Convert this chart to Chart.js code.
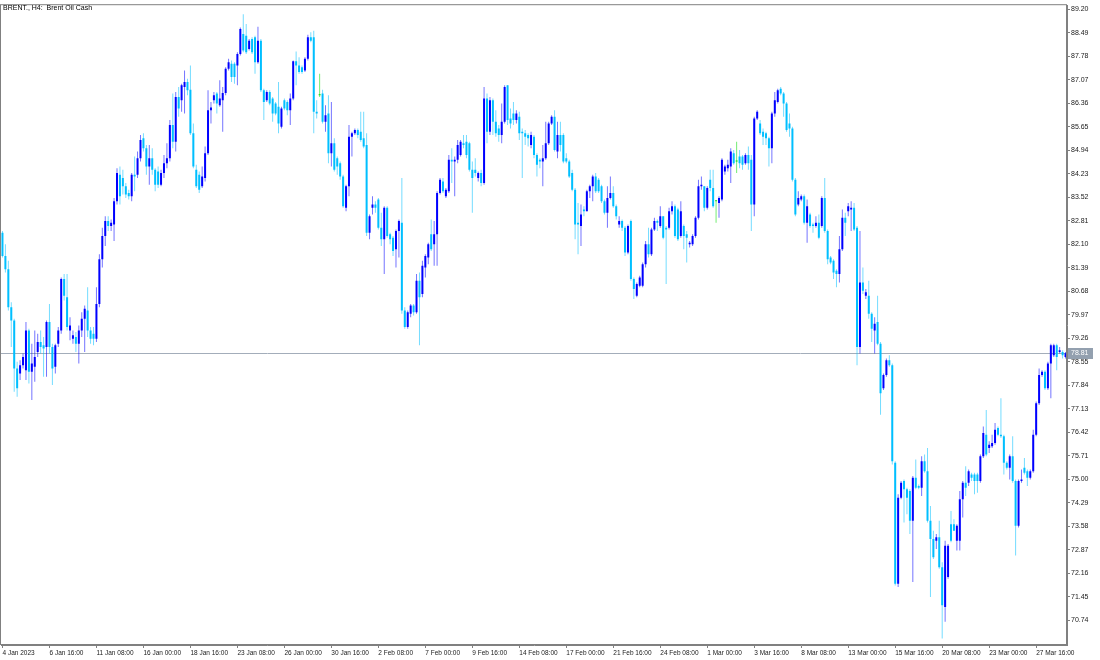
<!DOCTYPE html>
<html>
<head>
<meta charset="utf-8">
<title>BRENT., H4</title>
<script src="https://cdn.jsdelivr.net/npm/chart.js@4.4.1/dist/chart.umd.min.js"></script>
<style>
  html, body { margin:0; padding:0; background:#fff; }
  #wrap { width:1100px; height:660px; }
</style>
</head>
<body>
<div id="wrap"><canvas id="chart" width="1100" height="660"></canvas></div>
<script>
// ===== Data =====
const symbolTitle = "BRENT., H4:  Brent Oil Cash";
const lastPrice = 78.81;

// one label every 16 H4 bars
const dateTicks = ["4 Jan 2023","6 Jan 16:00","11 Jan 08:00","16 Jan 00:00","18 Jan 16:00","23 Jan 08:00",
  "26 Jan 00:00","30 Jan 16:00","2 Feb 08:00","7 Feb 00:00","9 Feb 16:00","14 Feb 08:00","17 Feb 00:00",
  "21 Feb 16:00","24 Feb 08:00","1 Mar 00:00","3 Mar 16:00","8 Mar 08:00","13 Mar 00:00","15 Mar 16:00",
  "20 Mar 08:00","23 Mar 00:00","27 Mar 16:00"];
const ticksEvery = 16;

const priceTicks = [89.20,88.49,87.78,87.07,86.36,85.65,84.94,84.23,83.52,82.81,82.10,81.39,80.68,79.97,
  79.26,78.55,77.84,77.13,76.42,75.71,75.00,74.29,73.58,72.87,72.16,71.45,70.74];

const opens = [
  82.45,81.75,81.35,80.20,79.80,78.35,78.20,78.45,78.30,79.50,
  78.25,78.40,78.85,79.15,79.05,79.00,79.75,79.00,78.40,79.10,
  79.50,81.05,80.50,79.50,79.25,79.30,79.10,79.50,79.85,80.10,
  79.50,79.40,79.25,80.30,81.65,82.35,82.80,82.65,82.70,83.40,
  84.20,84.10,83.85,83.65,83.55,84.20,84.20,84.70,85.30,85.00,
  84.45,84.70,84.35,84.30,83.90,84.25,84.55,84.70,85.70,85.20,
  86.55,86.45,86.85,87.00,86.77,85.45,84.35,84.20,83.85,84.10,
  84.85,86.15,86.45,86.65,86.30,86.45,86.67,87.40,87.55,87.55,
  87.50,87.85,88.45,88.40,88.00,88.30,88.35,87.60,88.25,86.75,
  86.45,86.70,86.50,86.35,86.25,85.65,86.45,86.40,86.15,86.50,
  87.63,87.50,87.45,87.35,87.70,88.35,88.35,86.10,86.60,86.65,
  85.80,86.05,84.85,85.15,84.70,84.55,84.15,83.20,83.85,85.35,
  85.45,85.55,85.50,85.30,85.10,82.45,83.20,83.30,83.45,82.60,
  82.25,83.20,82.40,82.30,81.95,82.50,82.75,80.10,79.60,80.00,
  80.25,80.05,81.00,80.60,81.40,81.70,82.40,82.10,82.40,83.65,
  84.00,83.55,83.70,84.65,84.60,84.65,84.80,85.15,85.20,85.15,
  84.35,84.35,84.10,84.25,83.95,86.50,85.50,86.45,85.80,85.60,
  85.40,85.80,86.90,85.90,86.05,85.85,85.95,85.50,85.45,85.40,
  85.10,85.35,84.80,84.65,84.60,84.70,85.15,85.75,85.95,84.90,
  85.40,85.40,84.70,84.60,84.25,83.75,82.75,82.65,83.15,83.10,
  83.70,83.85,84.15,84.05,83.85,83.40,83.05,83.50,83.65,83.25,
  82.70,82.80,82.60,81.85,82.80,81.05,80.55,80.85,80.85,81.50,
  82.10,81.80,82.55,82.80,82.65,82.95,82.60,82.60,83.10,83.25,
  83.15,82.35,82.65,82.40,82.10,82.10,82.35,82.90,83.85,83.85,
  83.20,84.05,83.80,83.40,83.35,83.45,84.30,84.40,84.45,84.85,
  84.60,84.75,84.75,84.55,84.80,84.65,83.30,85.90,85.75,85.50,
  85.45,85.30,85.00,86.05,86.40,86.80,86.65,86.35,85.75,85.60,
  84.05,83.30,83.45,83.55,82.75,83.00,82.70,82.65,82.75,82.65,
  83.50,82.50,81.70,81.60,81.30,81.20,81.95,82.90,83.10,83.15,
  83.20,82.60,79.00,80.95,80.55,80.55,80.00,79.50,79.75,79.10,
  77.75,78.15,78.60,78.45,75.50,71.85,74.45,74.95,74.70,74.65,
  73.75,75.05,74.80,74.75,75.55,75.25,73.75,73.20,73.15,73.25,
  72.35,71.15,72.05,73.65,73.65,73.15,73.15,74.40,74.90,74.90,
  75.15,75.15,75.15,74.95,75.70,76.35,75.95,76.00,76.10,76.55,
  76.35,76.30,75.50,75.35,75.70,74.95,73.60,74.95,75.35,75.25,
  75.05,75.25,76.35,77.30,78.15,78.25,77.75,78.50,78.75,79.05,
  78.85,78.85,78.70
];

const highs = [
  82.50,82.10,81.60,80.35,79.85,78.55,78.60,78.80,79.75,79.55,
  79.10,79.50,79.40,79.50,79.30,79.80,80.30,79.10,79.10,79.60,
  81.10,81.20,81.20,79.90,79.50,79.45,79.65,80.05,80.25,80.80,
  79.60,79.60,80.80,81.80,82.60,82.95,82.95,82.85,83.50,84.40,
  84.45,84.35,83.95,83.75,84.25,84.75,84.90,85.40,85.45,85.10,
  85.10,85.00,84.40,84.45,84.35,84.80,85.15,85.85,86.65,86.70,
  86.85,86.95,87.35,87.10,87.50,85.75,84.50,84.30,84.45,85.05,
  86.75,86.40,86.70,86.70,87.05,86.85,87.45,87.70,87.65,87.60,
  87.90,88.65,89.05,88.75,88.30,88.35,88.40,88.67,88.30,86.80,
  86.75,86.75,86.55,86.40,87.00,86.25,86.50,86.45,86.65,87.65,
  87.92,87.75,87.50,87.75,88.43,88.50,88.55,86.45,87.25,86.77,
  86.30,86.60,86.40,85.30,84.75,84.60,84.20,83.90,85.70,85.50,
  85.60,85.60,86.10,86.10,85.45,83.00,83.55,83.40,83.50,83.05,
  83.25,83.25,82.45,82.35,82.55,82.85,84.10,80.20,80.10,80.30,
  80.30,81.20,81.25,81.60,81.80,82.15,82.85,82.80,83.70,84.10,
  84.10,83.80,84.80,85.00,84.75,85.25,85.25,85.40,85.40,85.20,
  84.60,84.70,84.30,84.35,86.85,86.65,86.55,86.50,86.15,85.70,
  86.35,86.90,86.90,86.20,86.40,86.15,86.10,85.60,85.55,85.45,
  85.50,85.40,84.85,84.70,85.10,85.80,85.80,86.00,86.15,85.80,
  85.80,85.45,84.85,84.65,84.35,83.80,83.35,83.30,83.25,83.75,
  83.90,84.20,84.25,84.10,83.90,83.45,83.85,84.15,83.85,83.30,
  82.95,82.85,82.65,82.70,82.85,81.10,80.95,81.15,81.55,82.20,
  82.60,82.60,82.90,82.85,83.25,82.95,82.65,83.20,83.40,83.30,
  83.20,83.40,82.70,82.50,82.20,82.40,82.95,84.05,84.15,83.85,
  83.85,84.35,84.35,83.40,83.55,84.70,84.50,84.65,85.00,84.95,
  85.20,84.95,84.80,84.85,85.05,84.80,85.95,86.15,85.85,85.60,
  85.50,85.35,86.10,86.70,86.80,86.85,86.70,86.40,86.05,85.65,
  84.10,83.70,83.60,83.60,83.45,83.05,82.75,82.95,83.00,83.55,
  84.10,82.55,81.75,81.65,81.35,82.35,83.15,83.05,83.35,83.40,
  83.35,82.65,82.50,81.40,80.75,81.00,80.05,79.90,80.55,79.15,
  78.20,78.65,78.75,78.50,75.55,74.55,74.95,75.00,74.75,74.70,
  75.10,75.60,74.85,75.70,75.75,75.95,74.20,73.45,73.35,73.75,
  72.50,73.15,73.05,74.05,73.80,73.65,74.65,74.95,75.40,75.30,
  75.20,75.20,75.20,75.75,76.60,77.10,76.15,76.35,76.70,76.60,
  77.45,76.35,75.55,75.75,76.30,75.00,75.00,75.30,75.65,75.30,
  75.30,76.50,77.35,78.35,78.30,78.30,78.55,79.10,79.10,79.10,
  79.00,78.90,78.85
];

const lows = [
  81.70,81.25,80.10,79.00,77.65,77.50,78.00,78.35,78.00,77.90,
  77.40,77.95,78.70,78.80,78.10,78.10,78.80,77.85,78.20,79.00,
  79.40,80.40,79.50,79.20,79.10,78.85,78.50,79.30,78.85,79.30,
  79.10,79.05,79.15,80.20,81.40,82.05,82.50,82.50,82.20,83.30,
  83.30,83.60,83.50,83.45,83.40,83.70,84.10,84.60,84.90,84.20,
  83.90,84.20,83.70,83.80,83.85,84.10,84.40,84.60,85.00,84.90,
  85.95,86.10,86.05,86.60,85.40,84.40,83.80,83.65,83.80,84.00,
  84.80,85.75,86.35,86.05,86.25,85.50,86.60,87.35,87.00,86.95,
  86.90,87.80,87.90,87.85,87.95,87.85,87.25,87.55,86.70,85.85,
  86.40,86.30,85.80,86.00,85.45,85.60,86.15,86.00,85.70,86.45,
  86.90,87.25,87.25,87.30,87.65,88.20,85.45,85.90,86.55,85.75,
  85.50,84.55,84.45,84.30,84.20,84.05,83.20,83.10,83.55,84.75,
  85.40,85.30,85.20,85.00,82.35,82.25,83.00,83.05,82.55,82.05,
  81.20,82.30,82.10,81.75,81.40,81.70,80.00,79.55,79.55,79.90,
  79.95,80.00,79.05,80.50,81.10,81.50,81.90,81.45,81.45,83.60,
  83.65,83.50,83.65,83.95,83.55,84.55,84.75,85.00,84.70,84.30,
  83.05,84.15,84.00,83.85,83.90,85.15,85.40,85.40,85.35,85.20,
  85.15,85.75,85.70,85.60,85.70,85.75,85.25,84.10,85.10,85.05,
  85.00,84.70,84.15,84.40,83.85,84.65,85.10,85.70,84.90,84.70,
  84.90,84.55,84.55,84.10,83.70,82.25,81.80,82.05,82.95,83.10,
  83.50,83.40,83.65,83.65,83.35,83.00,82.60,83.45,83.20,82.85,
  82.60,82.50,81.75,81.80,81.00,80.45,80.50,80.80,80.80,81.40,
  81.70,81.75,82.50,82.50,82.60,82.25,80.90,82.55,83.00,82.30,
  82.20,82.30,81.95,81.55,82.00,82.05,82.30,82.85,83.75,83.10,
  83.15,83.70,83.20,82.75,82.90,83.40,84.20,84.30,83.95,84.50,
  84.25,84.40,84.35,84.50,84.35,82.50,82.95,85.85,85.40,85.10,
  85.10,84.45,84.55,85.95,86.35,86.60,85.95,85.50,85.35,84.00,
  82.95,83.25,83.40,82.70,82.15,82.60,82.45,82.60,82.25,82.60,
  82.45,81.50,81.50,81.05,80.80,80.95,81.90,82.35,82.95,82.50,
  82.50,78.45,78.80,80.60,80.45,79.85,79.15,78.80,79.05,76.95,
  77.70,78.10,78.40,75.45,71.80,71.75,74.40,73.70,73.95,73.35,
  71.90,74.70,74.70,74.50,75.20,73.70,71.45,72.60,72.90,72.30,
  70.20,70.70,72.00,73.10,73.45,72.85,72.85,73.85,74.50,74.80,
  74.95,74.55,74.60,74.90,75.65,75.70,75.80,75.95,76.05,76.30,
  76.25,75.15,75.30,75.00,74.90,72.70,73.55,74.90,75.15,74.80,
  75.00,75.20,76.30,77.25,78.10,77.70,77.70,77.45,78.70,78.30,
  78.80,78.65,78.65
];

const closes = [
  81.75,81.35,80.20,79.80,78.35,77.75,78.45,78.70,79.50,78.25,
  78.50,78.70,79.15,79.00,78.95,79.75,79.00,78.35,79.05,79.50,
  81.05,80.55,79.60,79.65,79.35,79.10,79.50,79.85,80.15,79.50,
  79.25,79.25,80.30,81.65,82.35,82.80,82.65,82.75,83.40,84.25,
  83.55,83.85,83.60,83.55,84.20,84.15,84.70,85.25,85.00,84.45,
  84.70,84.35,83.90,83.90,84.25,84.55,84.70,85.70,85.20,86.55,
  86.20,86.90,87.00,86.75,85.45,84.45,83.85,83.75,84.15,84.85,
  86.15,86.23,86.60,86.35,86.50,86.67,87.40,87.60,87.15,87.15,
  87.85,88.60,87.95,87.90,88.25,87.90,87.60,88.25,86.75,86.40,
  86.70,86.35,86.05,86.05,85.75,86.20,86.20,86.15,86.50,87.63,
  87.50,87.30,87.30,87.70,88.35,88.25,86.10,86.05,86.60,85.80,
  86.00,84.85,85.15,84.35,84.45,84.15,83.25,83.85,85.35,85.45,
  85.55,85.40,85.25,85.05,82.45,82.95,83.30,83.20,82.60,82.25,
  83.20,82.35,82.25,81.90,82.50,82.80,80.10,79.60,80.05,80.25,
  80.05,81.00,80.50,81.45,81.75,82.10,81.95,82.40,83.65,84.05,
  83.70,83.75,84.65,84.60,84.65,85.10,85.20,85.10,84.80,84.35,
  84.10,84.25,84.25,83.95,86.50,85.50,86.45,85.80,85.45,85.40,
  85.80,86.85,85.85,85.75,85.85,86.05,85.45,85.45,85.35,85.30,
  85.40,84.80,84.50,84.60,84.70,85.15,85.75,85.95,84.95,85.40,
  85.10,84.60,84.60,84.15,83.75,82.70,82.70,83.00,83.10,83.70,
  83.85,84.15,83.70,83.70,83.40,83.05,83.50,83.65,83.25,82.95,
  82.80,82.60,81.85,82.65,81.05,80.75,80.90,81.10,81.50,82.10,
  81.80,82.55,82.80,82.75,82.95,82.30,82.55,83.10,83.25,82.35,
  82.25,83.10,82.35,82.30,82.15,82.35,82.90,83.85,83.90,83.20,
  83.80,83.80,83.25,83.40,83.50,84.65,84.45,84.50,84.90,84.55,
  84.60,84.55,84.50,84.80,84.55,83.30,85.90,86.10,85.45,85.35,
  85.30,85.00,86.05,86.45,86.75,86.65,86.35,85.55,85.60,84.05,
  83.00,83.50,83.55,82.75,83.25,82.65,82.65,82.75,82.30,83.50,
  82.50,81.65,81.55,81.25,81.20,81.95,82.90,82.75,83.25,83.20,
  82.55,79.00,80.95,80.70,80.65,80.00,79.55,79.70,79.10,77.60,
  78.15,78.60,78.45,75.55,71.85,74.45,74.90,74.70,74.45,73.75,
  75.05,74.75,74.75,75.55,75.25,73.75,73.20,72.65,73.25,72.35,
  71.20,73.00,73.00,73.15,73.45,73.60,74.40,74.90,74.75,75.25,
  75.05,74.95,74.95,75.70,76.40,75.75,76.05,76.10,76.50,76.35,
  76.30,75.50,75.35,75.70,74.95,73.60,74.95,75.00,75.20,75.05,
  75.25,76.35,77.30,78.15,78.25,77.75,78.50,79.05,79.05,78.70,
  78.90,78.75,78.81
];

// ===== Candle parts built from OHLC =====
const bodies = opens.map((o, i) => [Math.min(o, closes[i]), Math.max(o, closes[i])]);
const wicks = highs.map((h, i) => [lows[i], h]);
function candleColor(i, alpha) {
  if (closes[i] > opens[i]) return `rgba(0,0,255,${alpha})`;
  if (closes[i] < opens[i]) return `rgba(0,191,255,${alpha})`;
  return `rgba(0,220,0,${alpha})`;
}

const FONT = '"Liberation Sans", Arial, sans-serif';

// ===== Plugins =====
const mtDecor = {
  id: 'mtDecor',
  beforeDatasetsDraw(chart) {
    const { ctx, chartArea: a, scales } = chart;
    const y = Math.round(scales.y.getPixelForValue(lastPrice)) + 0.5;
    ctx.save();
    ctx.strokeStyle = '#a3adba';
    ctx.lineWidth = 1;
    ctx.beginPath();
    ctx.moveTo(a.left, y);
    ctx.lineTo(a.right, y);
    ctx.stroke();
    ctx.restore();
  },
  afterDraw(chart) {
    const { ctx, chartArea: a, scales } = chart;
    ctx.save();
    // frame
    ctx.strokeStyle = '#808080';
    ctx.lineWidth = 1;
    ctx.strokeRect(a.left - 0.5, a.top - 0.5, a.right - a.left, a.bottom - a.top);
    // last price label
    const y = Math.round(scales.y.getPixelForValue(lastPrice));
    ctx.fillStyle = '#93a0af';
    ctx.fillRect(a.right + 1, y - 5, 25, 11);
    ctx.fillStyle = '#ffffff';
    ctx.font = '7px ' + FONT;
    ctx.textBaseline = 'middle';
    ctx.textAlign = 'left';
    ctx.fillText(lastPrice.toFixed(2), a.right + 4, y + 0.5);
    // title
    ctx.fillStyle = '#000000';
    ctx.font = '7px ' + FONT;
    ctx.fillText(symbolTitle, 3, 8);
    ctx.restore();
  }
};

// ===== Chart =====
const ctx = document.getElementById('chart').getContext('2d');
new Chart(ctx, {
  type: 'bar',
  data: {
    labels: opens.map((_, i) => i),
    datasets: [
      {
        data: bodies,
        backgroundColor: opens.map((_, i) => candleColor(i, 1)),
        barThickness: 2,
        minBarLength: 1,
        grouped: false,
        inflateAmount: 0,
        borderWidth: 0,
        order: 0
      },
      {
        data: wicks,
        backgroundColor: opens.map((_, i) => candleColor(i, 0.55)),
        barThickness: 1,
        grouped: false,
        inflateAmount: 0,
        borderWidth: 0,
        order: 1
      }
    ]
  },
  options: {
    responsive: false,
    devicePixelRatio: 1,
    animation: false,
    layout: { padding: { left: 1, top: 1, right: 0, bottom: 0 } },
    plugins: { legend: { display: false }, tooltip: { enabled: false } },
    scales: {
      x: {
        type: 'category',
        offset: true,
        grid: { offset: false, drawOnChartArea: false, drawTicks: true, tickLength: 3, color: '#808080' },
        border: { display: true, color: '#808080' },
        ticks: {
          autoSkip: false, maxRotation: 0, minRotation: 0, align: 'start', padding: 1,
          color: '#1a1a1a', font: { family: FONT, size: 6.5 },
          callback: v => dateTicks[v / ticksEvery]
        },
        afterBuildTicks: s => {
          s.ticks = s.ticks.filter(t => t.value % ticksEvery === 0 && t.value / ticksEvery < dateTicks.length);
        },
        afterFit: s => { s.height = 15; }
      },
      y: {
        position: 'right',
        min: 70.0,
        max: 89.32,
        grid: { drawOnChartArea: false, drawTicks: true, tickLength: 3, color: '#808080' },
        border: { display: true, color: '#808080' },
        ticks: {
          padding: 1, color: '#1a1a1a', font: { family: FONT, size: 7 },
          callback: v => Number(v).toFixed(2)
        },
        afterBuildTicks: s => { s.ticks = priceTicks.map(v => ({ value: v })); },
        afterFit: s => { s.width = 33; }
      }
    }
  },
  plugins: [mtDecor]
});
</script>
</body>
</html>
